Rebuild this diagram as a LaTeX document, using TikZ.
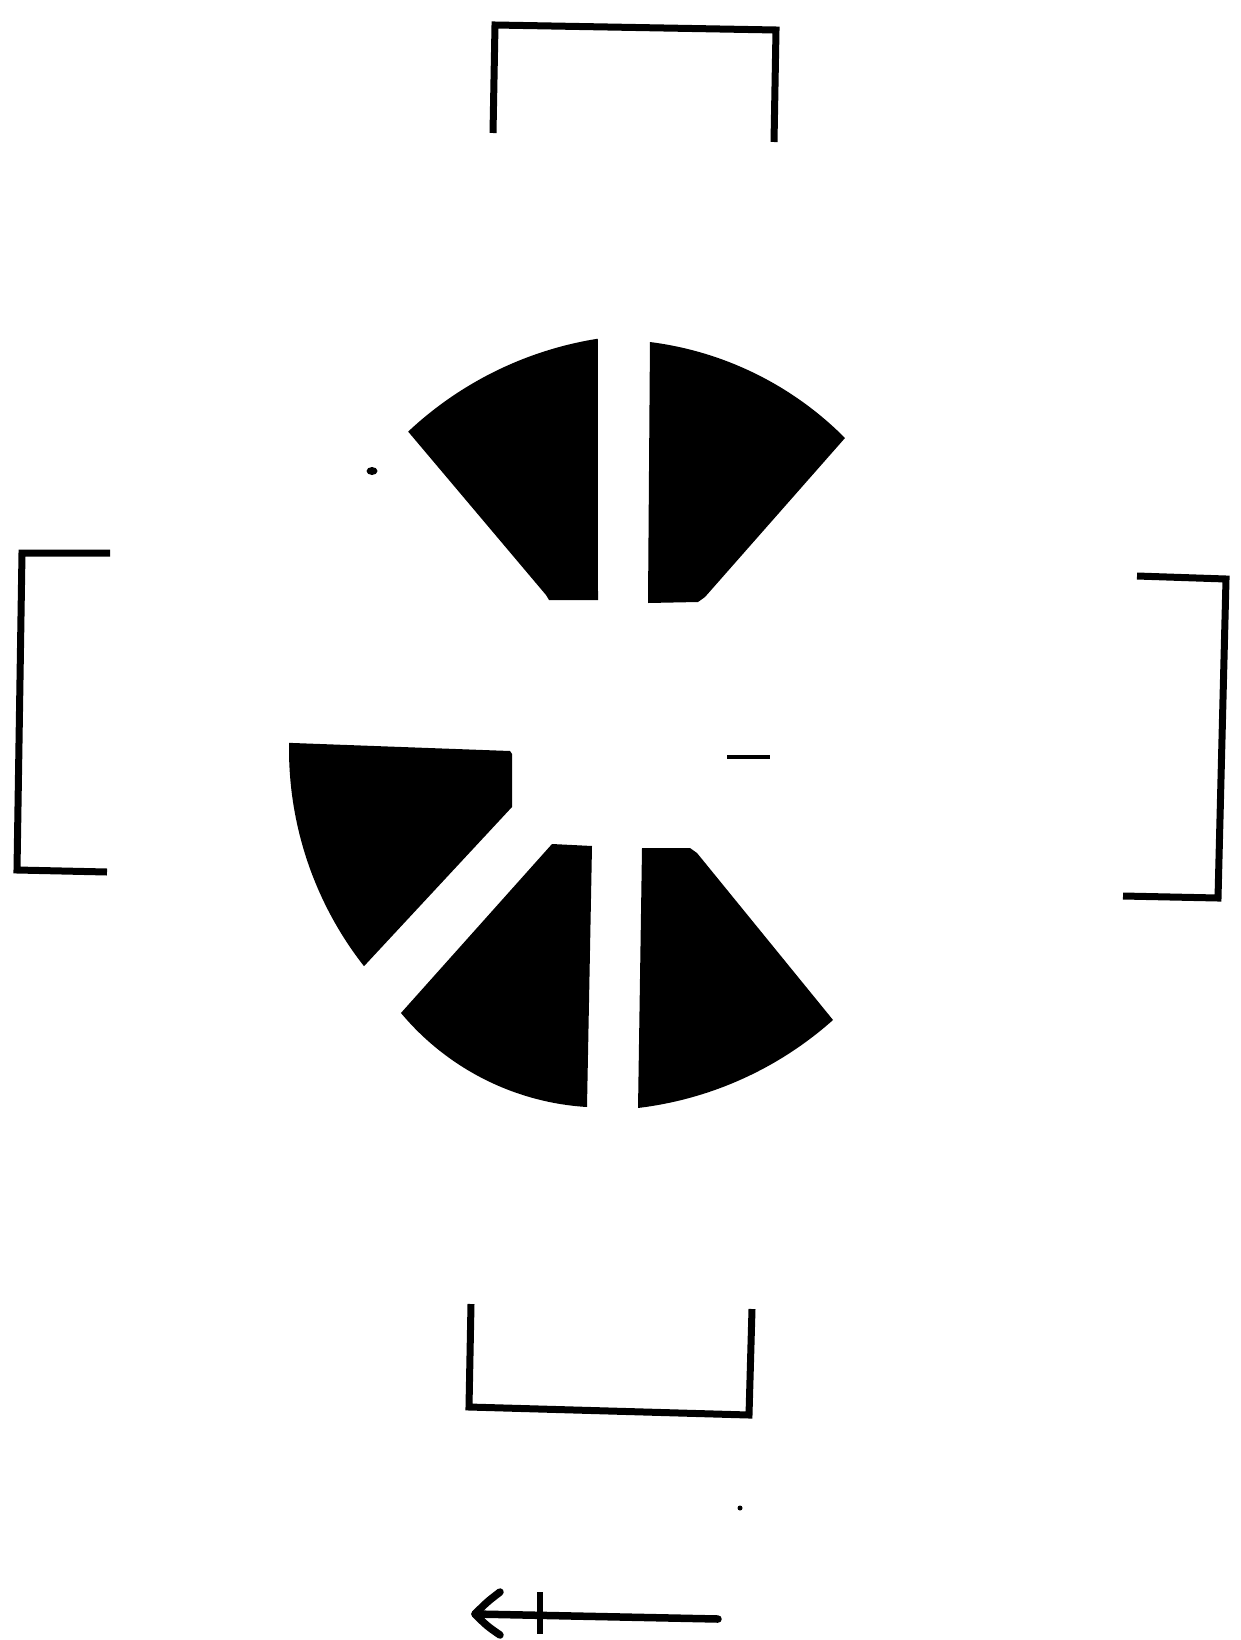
\documentclass[tikz,border=0pt]{standalone}
\begin{document}
\begin{tikzpicture}[x=1pt,y=1pt,
  bracket/.style={line width=7pt, line join=miter, line cap=butt},
  sector/.style={fill=black},
  arrowline/.style={line width=7.5pt, line cap=round, line join=round}]
\useasboundingbox (0,0) rectangle (1240,-1640);
\fill[white] (0,0) rectangle (1240,-1640);
% brackets
\draw[bracket] (493,-133) -- (495,-25) -- (776,-30) -- (774,-142);
\draw[bracket] (471,-1304) -- (469,-1407) -- (749,-1415) -- (752,-1309);
\draw[bracket] (110,-553) -- (22,-553) -- (17,-870) -- (107,-872);
\draw[bracket] (1137,-576) -- (1226,-579) -- (1218,-898) -- (1123,-896);
% upper sectors
\fill[sector] (598,-600) -- ([shift={(653.9,-693.3)}]99:359) arc[start angle=99, end angle=133.2, radius=359] -- (546,-595) -- (549,-600) -- cycle;
\fill[sector] (648,-603) -- ([shift={(608.3,-672.8)}]82.82:333.4) arc[start angle=82.82, end angle=44.77, radius=333.4] -- (705,-597) -- (698,-602) -- cycle;
% lower sectors
\fill[sector] ([shift={(641,-749)}]218.1:352) arc[start angle=218.1, end angle=179.0, radius=352] -- (510,-751) -- (512,-754) -- (512,-807) -- cycle;
\fill[sector] (552,-844) -- (592,-846) -- ([shift={(602.9,-844.5)}]266.53:263) arc[start angle=266.53, end angle=219.84, radius=263] -- cycle;
\fill[sector] (642,-848) -- (690,-848) -- (697,-853) -- ([shift={(595.7,-754.1)}]-48.25:356.4) arc[start angle=-48.25, end angle=-83.18, radius=356.4] -- cycle;
% specks
\fill (372,-471) ellipse (5.5 and 4);
\fill (727,-755) rectangle (770,-759);
\fill (740,-1508) circle (2.5);
% arrow
\coordinate (tip) at (475,-1614);
\coordinate (tail) at (718,-1619);
\coordinate (barbA) at (500,-1592);
\coordinate (barbB) at (500,-1635);
\coordinate (tickA) at (540,-1592);
\coordinate (tickB) at (540,-1634);
\draw[arrowline] (tail) -- (tip);
\draw[arrowline] (barbA) .. controls (487,-1602) .. (tip) .. controls (487,-1626) .. (barbB);
\draw[line width=6.5pt] (tickA) -- (tickB);
\end{tikzpicture}
\end{document}
